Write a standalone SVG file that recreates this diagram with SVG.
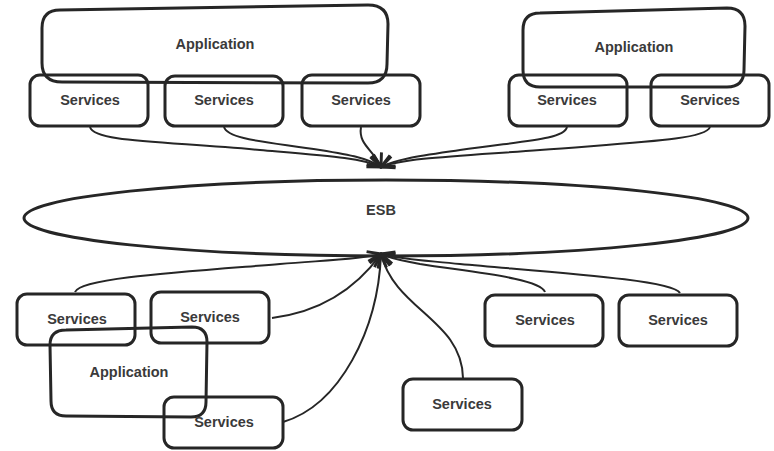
<svg xmlns="http://www.w3.org/2000/svg" width="774" height="451" viewBox="0 0 774 451">
<defs>
<style>
.box{fill:none;stroke:#262626;stroke-width:3;}
.app{fill:none;stroke:#262626;stroke-width:3;}
.lbl{font-family:"Liberation Sans",Arial,sans-serif;font-weight:bold;font-size:14.5px;fill:#3a3a3a;text-anchor:middle;dominant-baseline:central;}
.ln{fill:none;stroke:#262626;stroke-width:2;marker-end:url(#ah);}
</style>
<marker id="ah" viewBox="0 0 12 12" refX="11" refY="6" markerWidth="8" markerHeight="8" orient="auto" markerUnits="strokeWidth">
<path d="M1,1.5 L11,6 L1,10.5" fill="none" stroke="#262626" stroke-width="2.2"/>
</marker>
</defs>
<rect width="774" height="451" fill="#ffffff"/>
<g id="connectors">
<path class="ln" d="M90,127 C94,142 160,141 260,150 C330,156 362,158 381,167"/>
<path class="ln" d="M224,127 C228,140 270,142 320,150 C350,155 368,158 381,167"/>
<path class="ln" d="M361,127 C358,145 374,150 381,167"/>
<path class="ln" d="M567,127 C564,140 520,141 460,150 C420,156 396,159 381,167"/>
<path class="ln" d="M710,127 C705,140 640,142 540,150 C460,156 404,158 381,167"/>
<path class="ln" d="M75,292 C80,278 180,272 280,264 C330,260 362,259 381,254"/>
<path class="ln" d="M272,318 C320,312 355,290 381,254"/>
<path class="ln" d="M283,422 C340,405 378,330 381,254"/>
<path class="ln" d="M463,378 C462,320 395,310 381,254"/>
<path class="ln" d="M545,292 C540,278 470,272 420,264 C400,260 392,259 381,254"/>
<path class="ln" d="M680,293 C672,280 560,273 460,264 C420,260 398,259 381,254"/>
</g>
<g id="esb">
<ellipse class="box" cx="386" cy="218" rx="362" ry="38"/>
<text class="lbl" x="381" y="210">ESB</text>
</g>
<g id="app1">
<path class="app" d="M60,10 L368,5 Q388,5 388,24 L387,64 Q387,83 368,83 L62,82 Q42,82 42,63 L42,28 Q42,10 60,10 Z"/>
<text class="lbl" x="215" y="44">Application</text>
</g>
<g id="app2">
<path class="app" d="M540,13 L727,8 Q745,8 745,26 L744,70 Q744,87 727,87 L540,87 Q523,87 523,70 L523,30 Q523,13 540,13 Z"/>
<text class="lbl" x="634" y="47">Application</text>
</g>
<g id="svc1"><rect class="box" x="30" y="75" width="118" height="51" rx="10"/><text class="lbl" x="90" y="100">Services</text></g>
<g id="svc2"><rect class="box" x="165" y="76" width="118" height="50" rx="10"/><text class="lbl" x="224" y="100">Services</text></g>
<g id="svc3"><rect class="box" x="302" y="75" width="118" height="51" rx="10"/><text class="lbl" x="361" y="100">Services</text></g>
<g id="svc4"><rect class="box" x="509" y="75" width="118" height="51" rx="10"/><text class="lbl" x="567" y="100">Services</text></g>
<g id="svc5"><rect class="box" x="651" y="75" width="118" height="51" rx="10"/><text class="lbl" x="710" y="100">Services</text></g>
<g id="app3">
<path class="app" d="M66,330 L192,327 Q207,327 207,342 L206,402 Q206,417 191,417 L66,416 Q51,416 51,401 L50,345 Q50,330 66,330 Z"/>
<text class="lbl" x="129" y="372">Application</text>
</g>
<g id="svcA"><rect class="box" x="17" y="294" width="118" height="51" rx="10"/><text class="lbl" x="77" y="319">Services</text></g>
<g id="svcB"><rect class="box" x="151" y="292" width="118" height="51" rx="10"/><text class="lbl" x="210" y="317">Services</text></g>
<g id="svcC"><rect class="box" x="164" y="397" width="119" height="51" rx="10"/><text class="lbl" x="224" y="422">Services</text></g>
<g id="svcD"><rect class="box" x="403" y="379" width="119" height="51" rx="10"/><text class="lbl" x="462" y="404">Services</text></g>
<g id="svcE"><rect class="box" x="485" y="295" width="118" height="51" rx="10"/><text class="lbl" x="545" y="320">Services</text></g>
<g id="svcF"><rect class="box" x="619" y="295" width="118" height="51" rx="10"/><text class="lbl" x="678" y="320">Services</text></g>
</svg>
